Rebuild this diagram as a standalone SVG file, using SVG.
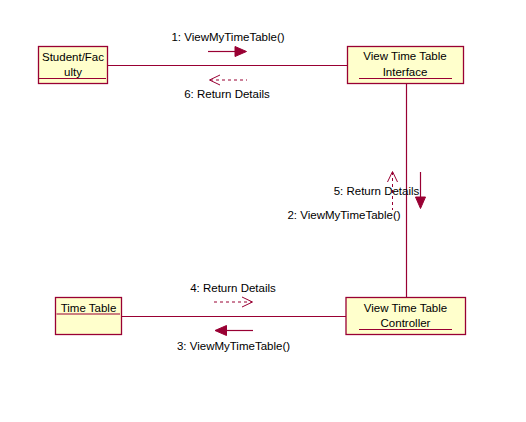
<svg xmlns="http://www.w3.org/2000/svg" width="526" height="422" viewBox="0 0 526 422">
<style>
.box{fill:#FFFFCC;stroke:#990033;stroke-width:1.3}
.ul{stroke:#990033;stroke-width:1.2}
.link{stroke:#990033;stroke-width:1.2;fill:none}
.msg{stroke:#990033;stroke-width:1.2;fill:none}
.ret{stroke:#990033;stroke-width:1;fill:none;stroke-dasharray:3 3}
.head{fill:#990033;stroke:#990033;stroke-width:1}
.ohead{fill:none;stroke:#990033;stroke-width:1}
text{font-family:"Liberation Sans",Arial,sans-serif;font-size:11.5px;fill:#000}
.c{text-anchor:middle}
</style>
<rect width="526" height="422" fill="#fff"/>
<g id="connectors">
<line class="link" x1="107" y1="65.5" x2="347" y2="65.5"/>
<line class="link" x1="406.5" y1="83" x2="406.5" y2="297"/>
<line class="link" x1="122" y1="316.5" x2="346" y2="316.5"/>
<!-- 1 -->
<line class="msg" x1="208" y1="51.5" x2="240" y2="51.5"/>
<polygon class="head" points="246.5,51.5 235,46.5 235,56.5"/>
<text x="228" y="41" class="c">1: ViewMyTimeTable()</text>
<!-- 6 -->
<line class="ret" x1="210" y1="80" x2="247" y2="80"/>
<polyline class="ohead" points="220,75 209.5,80 220,85"/>
<text x="227" y="98" class="c">6: Return Details</text>
<!-- 2 -->
<line class="msg" x1="420.5" y1="172" x2="420.5" y2="202"/>
<polygon class="head" points="420.5,208.5 415.5,197 425.5,197"/>
<text x="344" y="218.5" class="c">2: ViewMyTimeTable()</text>
<!-- 5 -->
<line class="ret" x1="392.5" y1="172" x2="392.5" y2="210"/>
<polyline class="ohead" points="387.5,182 392.5,171.5 397.5,182"/>
<text x="376.5" y="195" class="c">5: Return Details</text>
<!-- 4 -->
<line class="ret" x1="214" y1="302" x2="252" y2="302"/>
<polyline class="ohead" points="242,297 252.5,302 242,307"/>
<text x="233" y="291.5" class="c">4: Return Details</text>
<!-- 3 -->
<line class="msg" x1="221" y1="330.5" x2="253" y2="330.5"/>
<polygon class="head" points="215,330.5 226.5,325.5 226.5,335.5"/>
<text x="233.5" y="349.5" class="c">3: ViewMyTimeTable()</text>
</g>
<g id="student">
<rect class="box" x="38.5" y="46.5" width="69" height="37"/>
<line class="ul" x1="39" y1="78.5" x2="106" y2="78.5"/>
<text x="73" y="61" class="c">Student/Fac</text>
<text x="73" y="76" class="c">ulty</text>
</g>
<g id="interface">
<rect class="box" x="347.5" y="46.5" width="116" height="37"/>
<line class="ul" x1="359" y1="78.5" x2="452" y2="78.5"/>
<text x="405" y="60" class="c">View Time Table</text>
<text x="405" y="75.5" class="c">Interface</text>
</g>
<g id="timetable">
<rect class="box" x="55.5" y="297.5" width="66" height="37"/>
<line class="ul" x1="56.5" y1="314" x2="120" y2="314"/>
<text x="88.5" y="311.5" class="c">Time Table</text>
</g>
<g id="controller">
<rect class="box" x="346" y="297.5" width="119.5" height="37"/>
<line class="ul" x1="359" y1="329.5" x2="452" y2="329.5"/>
<text x="405.5" y="311.5" class="c">View Time Table</text>
<text x="405.5" y="327" class="c">Controller</text>
</g>
</svg>
